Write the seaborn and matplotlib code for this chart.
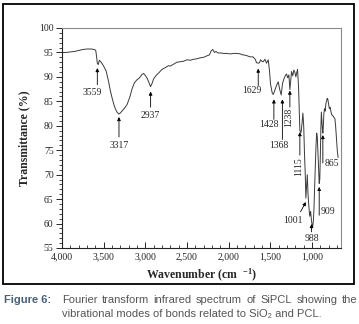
import matplotlib
matplotlib.use("Agg")
import matplotlib.pyplot as plt
from matplotlib.patches import Rectangle
from matplotlib.ticker import MultipleLocator, FuncFormatter
import seaborn as sns
import pandas as pd

# wavenumber (cm-1) and transmittance (%)
wavenumber = [
    4000, 3950, 3900, 3850, 3800, 3750, 3700, 3650, 3610, 3595, 3585, 3576,
    3565, 3552, 3530, 3500, 3470, 3440, 3420, 3400, 3380, 3360, 3340, 3317,
    3300, 3280, 3250, 3220, 3200, 3180, 3160, 3130, 3100, 3070, 3040, 3020,
    3000, 2980, 2960, 2937, 2920, 2900, 2870, 2840, 2800, 2760, 2720, 2700,
    2660, 2620, 2580, 2540, 2500, 2460, 2420, 2380, 2340, 2300, 2260, 2230,
    2210, 2190, 2170, 2150, 2130, 2100, 2060, 2020, 1980, 1940, 1900, 1860,
    1828, 1790, 1744, 1708, 1680, 1664, 1644, 1629, 1616, 1600, 1584, 1564,
    1544, 1524, 1510, 1496, 1476, 1464, 1450, 1436, 1420, 1404, 1384, 1368,
    1352, 1335, 1320, 1304, 1290, 1276, 1264, 1252, 1244, 1230, 1216, 1204,
    1192, 1180, 1172, 1160, 1150, 1144, 1130, 1118, 1108, 1098, 1088, 1080,
    1072, 1064, 1055, 1046, 1036, 1026, 1015, 1004, 996, 990, 982, 975,
    966, 958, 950, 942, 934, 926, 918, 912, 905, 898, 892, 886,
    880, 874, 868, 862, 856, 848, 840, 832, 824, 816, 808, 800,
    790, 780, 770, 760, 745, 735, 724, 715, 705, 695, 685,
]
transmittance = [
    95.0, 95.0, 95.1, 95.2, 95.4, 95.6, 95.7, 95.7, 95.6, 95.4, 94.2, 92.8,
    92.5, 93.4, 93.0, 92.2, 91.2, 89.0, 87.2, 85.8, 84.5, 83.5, 82.8, 82.4,
    82.6, 83.0, 83.6, 84.3, 85.2, 86.2, 87.5, 88.8, 89.4, 89.8, 90.5, 90.7,
    90.3, 89.8, 89.0, 88.0, 88.6, 89.6, 90.3, 90.8, 91.5, 91.9, 92.3, 92.2,
    92.6, 93.0, 93.1, 93.2, 93.5, 93.4, 93.6, 93.7, 93.9, 94.0, 94.3, 94.5,
    95.3, 95.6, 95.0, 95.2, 94.9, 94.9, 94.8, 94.8, 94.7, 94.8, 94.8, 94.7,
    94.5, 94.4, 94.1, 94.1, 93.6, 92.9, 92.8, 92.9, 93.5, 93.2, 93.1, 93.6,
    92.8, 93.5, 91.5, 88.5, 86.7, 86.4, 87.0, 87.7, 88.4, 89.0, 87.3, 86.3,
    88.7, 89.6, 90.2, 90.6, 89.8, 90.4, 87.4, 89.5, 91.1, 90.2, 91.4, 90.9,
    90.0, 91.0, 91.5, 88.0, 82.0, 79.0, 78.6, 80.5, 82.6, 80.0, 74.0, 70.5,
    65.2, 67.5, 70.0, 66.0, 63.5, 61.5, 62.5, 60.5, 59.6, 59.4, 60.5, 63.0,
    68.0, 72.0, 76.0, 78.5, 77.5, 74.0, 70.0, 68.2, 69.0, 74.0, 79.5, 82.8,
    81.0, 79.5, 78.5, 80.0, 82.5, 83.5, 83.0, 84.5, 85.0, 85.6, 85.4, 84.6,
    83.5, 83.8, 82.8, 82.2, 82.0, 81.7, 81.5, 80.0, 77.5, 75.0, 73.5,
]

# band labels and where their arrows sit
band_labels = ["3559", "3317", "2937", "1629", "1428", "1368", "1238",
               "1115", "1001", "988", "909", "865"]
arrow_x = [3576, 3316, 2936, 1644, 1456, 1354, 1264, 1144, 1072, 1004, 912, 868]
arrow_tip = [91.8, 81.8, 87.0, 91.7, 85.4, 85.4, 87.2, 78.7, 64.4, 59.9, 67.5, 78.1]

# (tail_x, tail_y, text_x, text_y, ha, rotation) per label
layout = [
    (3576, 88.4, 3640, 86.8, "center", 0),
    (3316, 77.7, 3316, 75.9, "center", 0),
    (2936, 83.8, 2936, 82.2, "center", 0),
    (1644, 88.2, 1724, 87.2, "center", 0),
    (1456, 81.3, 1510, 80.2, "center", 0),
    (1354, 77.2, 1392, 75.9, "center", 0),
    (1264, 83.8, 1278, 81.8, "center", 90),
    (1144, 74.0, 1162, 71.6, "center", 90),
    (1136, 62.4, 1226, 60.7, "center", 0),
    (1004, 58.3, 1004, 57.0, "center", 0),
    (912, 61.7, 895, 62.4, "left", 0),
    (868, 72.4, 852, 72.3, "left", 0),
]

caption_lines = [
    "Fourier transform infrared spectrum of SiPCL showing the",
    "vibrational modes of bonds related to SiO\u2082 and PCL.",
]

df = pd.DataFrame({"wavenumber": wavenumber, "transmittance": transmittance})

sns.set_style("ticks")
plt.rcParams["font.family"] = ["Liberation Serif", "DejaVu Serif"]
plt.rcParams["mathtext.fontset"] = "custom"
plt.rcParams["mathtext.rm"] = "Liberation Serif"
plt.rcParams["mathtext.bf"] = "Liberation Serif:bold"

fig = plt.figure(figsize=(3.59, 3.24), dpi=100)
ax = fig.add_axes([0.1727, 0.2346, 0.7772, 0.679])

sns.lineplot(data=df, x="wavenumber", y="transmittance", sort=False,
             estimator=None, color="#3a3a3a", linewidth=0.7, ax=ax)

for lab, ax_x, tip, (tx, ty, lx, ly, ha, rot) in zip(band_labels, arrow_x, arrow_tip, layout):
    ax.annotate("", xy=(ax_x, tip), xytext=(tx, ty),
                arrowprops=dict(arrowstyle="-|>", color="black", lw=0.6,
                                mutation_scale=5, shrinkA=0, shrinkB=0))
    ax.text(lx, ly, lab, ha=ha, va="center", rotation=rot, fontsize=7)

ax.set_xlim(4000, 650)
ax.set_ylim(55, 100)
ax.xaxis.set_major_locator(MultipleLocator(500))
ax.xaxis.set_minor_locator(MultipleLocator(100))
ax.yaxis.set_major_locator(MultipleLocator(5))
ax.yaxis.set_minor_locator(MultipleLocator(1))
ax.xaxis.set_major_formatter(FuncFormatter(lambda v, p: f"{v:,.0f}" if v >= 1000 else ""))
ax.tick_params(axis="x", which="major", direction="in", length=4, width=0.7, labelsize=7, pad=3)
ax.tick_params(axis="x", which="minor", direction="in", length=2.5, width=0.6)
ax.tick_params(axis="y", which="major", direction="out", length=4, width=0.7, labelsize=7, pad=2)
ax.tick_params(axis="y", which="minor", direction="out", length=2, width=0.6)

for side in ["left", "bottom"]:
    ax.spines[side].set_color("#222222")
    ax.spines[side].set_linewidth(0.8)
for side in ["top", "right"]:
    ax.spines[side].set_color("#8a8a8a")
    ax.spines[side].set_linewidth(0.8)

ax.set_xlabel(r"Wavenumber (cm  $\mathbf{^{-1}}$)", fontsize=8.5, fontweight="bold", labelpad=4)
ax.set_ylabel("Transmittance (%)", fontsize=8.5, fontweight="bold", labelpad=6)

# outer frame around the chart
fig.add_artist(Rectangle((0.0084, 0.1235), 0.9776, 0.8642, transform=fig.transFigure,
                         fill=False, edgecolor="black", linewidth=1.3))

cap_font = ["Liberation Sans", "DejaVu Sans"]
cap_size = 8.0
fig.text(0.011, 0.074, "Figure 6:", fontsize=cap_size, fontweight="bold",
         color="#44607a", family=cap_font, va="center")

# first caption line is justified across the width, like the journal layout
fig.canvas.draw()
renderer = fig.canvas.get_renderer()
x0, x1 = 0.172, 0.996
words = caption_lines[0].split()
objs = [fig.text(x0, 0.074, w, fontsize=cap_size, color="#555555", family=cap_font, va="center")
        for w in words]
widths = [o.get_window_extent(renderer).width / fig.bbox.width for o in objs]
gap = (x1 - x0 - sum(widths)) / (len(words) - 1)
pos = x0
for o, w in zip(objs, widths):
    o.set_x(pos)
    pos += w + gap
fig.text(x0, 0.032, caption_lines[1], fontsize=cap_size, color="#555555", family=cap_font, va="center")

fig.savefig("out.png", dpi=100)
